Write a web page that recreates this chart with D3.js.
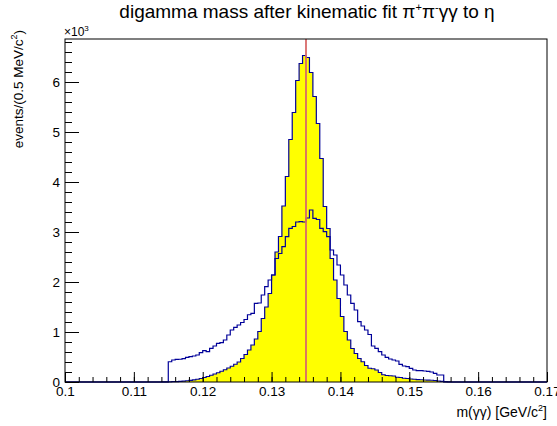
<!DOCTYPE html>
<html>
<head>
<meta charset="utf-8">
<script src="https://cdn.jsdelivr.net/npm/d3@7"></script>
<style>
  body { margin: 0; background: #fff; }
  text { font-family: "Liberation Sans", Arial, Helvetica, sans-serif; }
</style>
</head>
<body>
<div id="chart"></div>
<script>
// histogram binning: 140 bins of 0.5 MeV between 0.1 and 0.17 GeV
var binLow = 0.1, binWidth = 0.0005;

// after kinematic fit (yellow)
var fitCounts = [
  0, 0, 0, 0, 0, 0, 0, 0, 0, 0,
  0, 0, 0, 0, 0, 0, 0, 0, 0, 0,
  0, 0, 0, 0, 0, 0, 0, 0, 2, 3,
  4, 6, 8, 12, 18, 25, 32, 42, 55, 70,
  90, 110, 135, 160, 185, 215, 245, 280, 315, 355,
  400, 470, 550, 640, 740, 860, 1010, 1270, 1500, 1770,
  2140, 2600, 2910, 3520, 4110, 4850, 5390, 6030, 6370, 6530,
  6490, 6190, 5710, 5170, 4470, 3510, 3070, 2470, 2040, 1670,
  1310, 1010, 840, 670, 570, 470, 405, 330, 275, 265,
  240, 190, 145, 130, 125, 120, 95, 90, 75, 70,
  60, 55, 47, 45, 40, 38, 35, 30, 20, 12,
  6, 3, 0, 0, 0, 0, 0, 0, 0, 0,
  0, 0, 0, 0, 0, 0, 0, 0, 0, 0,
  0, 0, 0, 0, 0, 0, 0, 0, 0, 0
];

// before the fit (blue outline)
var rawCounts = [
  0, 0, 0, 0, 0, 0, 0, 0, 0, 0,
  0, 0, 0, 0, 0, 0, 0, 0, 0, 0,
  0, 0, 0, 0, 0, 0, 0, 0, 0, 0,
  405, 440, 453, 455, 467, 493, 507, 520, 540, 587,
  627, 607, 673, 720, 773, 787, 840, 940, 1040, 1093,
  1140, 1190, 1250, 1345, 1373, 1573, 1580, 1740, 1907, 2040,
  2140, 2470, 2570, 2707, 2907, 3073, 3110, 3200, 3207, 3200,
  3280, 3440, 3273, 3250, 3073, 3007, 2907, 2640, 2540, 2340,
  2140, 1940, 1740, 1573, 1440, 1207, 1120, 1040, 950, 720,
  673, 607, 540, 493, 460, 440, 420, 353, 320, 307,
  273, 240, 227, 227, 220, 213, 200, 173, 140, 140,
  0, 0, 0, 0, 0, 0, 0, 0, 0, 0,
  0, 0, 0, 0, 0, 0, 0, 0, 0, 0,
  0, 0, 0, 0, 0, 0, 0, 0, 0, 0
];

var xTicks = [0.1, 0.11, 0.12, 0.13, 0.14, 0.15, 0.16, 0.17];
var yTicks = [0, 1000, 2000, 3000, 4000, 5000, 6000];
var etaMass = 0.135;
var yMax = 6860;

var width = 557, height = 426;
var margin = {top: 39, right: 10, bottom: 44, left: 65};

var svg = d3.select("#chart")
        .append("svg")
        .attr("width", width)
        .attr("height", height);

var x = d3.scaleLinear()
        .domain([0.1, 0.17])
        .range([margin.left, width - margin.right]);

var y = d3.scaleLinear()
        .domain([0, yMax])
        .range([height - margin.bottom, margin.top]);

function histPoints(counts) {
    var pts = counts.map(function (c, i) {
        return [binLow + i * binWidth, c];
    });
    pts.push([binLow + counts.length * binWidth, counts[counts.length - 1]]);
    return pts;
}

var area = d3.area()
        .curve(d3.curveStepAfter)
        .x(function (d) { return x(d[0]); })
        .y0(y(0))
        .y1(function (d) { return y(d[1]); });

var line = d3.line()
        .curve(d3.curveStepAfter)
        .x(function (d) { return x(d[0]); })
        .y(function (d) { return y(d[1]); });

// yellow histogram
svg.append("path")
        .datum(histPoints(fitCounts))
        .attr("d", area)
        .style("fill", "#ffff00")
        .style("stroke", "none");

svg.append("path")
        .datum(histPoints(fitCounts))
        .attr("d", line)
        .style("fill", "none")
        .style("stroke", "#000099")
        .style("stroke-width", "1.2px");

// blue histogram
svg.append("path")
        .datum(histPoints(rawCounts))
        .attr("d", line)
        .style("fill", "none")
        .style("stroke", "#000099")
        .style("stroke-width", "1.2px");

// eta mass marker
svg.append("line")
        .attr("x1", x(etaMass))
        .attr("x2", x(etaMass))
        .attr("y1", y(yMax))
        .attr("y2", y(0))
        .style("stroke", "#d86a6a")
        .style("stroke-width", "1.8px");

// frame
svg.append("rect")
        .attr("x", margin.left)
        .attr("y", margin.top)
        .attr("width", width - margin.left - margin.right)
        .attr("height", height - margin.top - margin.bottom)
        .style("fill", "none")
        .style("stroke", "#000")
        .style("stroke-width", "1px");

// x axis
var xMinor = d3.range(0.1, 0.1701, 0.002);
svg.append("g")
        .attr("transform", "translate(0," + y(0) + ")")
        .call(d3.axisBottom(x).tickValues(xMinor).tickSize(-5).tickFormat(""))
        .call(function (g) { g.select(".domain").remove(); });

svg.append("g")
        .attr("class", "axis-x")
        .attr("transform", "translate(0," + y(0) + ")")
        .call(d3.axisBottom(x).tickValues(xTicks).tickSize(-10).tickPadding(4)
                .tickFormat(d3.format("")))
        .call(function (g) { g.select(".domain").remove(); });

// y axis
var yMinor = d3.range(0, yMax, 200);
svg.append("g")
        .attr("transform", "translate(" + margin.left + ",0)")
        .call(d3.axisLeft(y).tickValues(yMinor).tickSize(-7).tickFormat(""))
        .call(function (g) { g.select(".domain").remove(); });

svg.append("g")
        .attr("class", "axis-y")
        .attr("transform", "translate(" + margin.left + ",0)")
        .call(d3.axisLeft(y).tickValues(yTicks).tickSize(-14).tickPadding(5)
                .tickFormat(function (d) { return d / 1000; }))
        .call(function (g) { g.select(".domain").remove(); });

svg.selectAll(".tick line").style("stroke", "#000");
svg.selectAll(".axis-x text, .axis-y text")
        .style("font-size", "13.5px")
        .style("font-family", "'Liberation Sans', Arial, sans-serif")
        .style("fill", "#000");

// exponent
var expo = svg.append("text")
        .attr("x", margin.left - 1)
        .attr("y", margin.top - 3)
        .style("font-size", "12px");
expo.append("tspan").text("\u00d710");
expo.append("tspan").attr("dy", -5).style("font-size", "8px").text("3");

// title
var title = svg.append("text")
        .attr("x", 307)
        .attr("y", 18)
        .attr("text-anchor", "middle")
        .style("font-size", "19px");
title.append("tspan").text("digamma mass after kinematic fit \u03c0");
title.append("tspan").attr("dy", -7).style("font-size", "11px").text("+");
title.append("tspan").attr("dy", 7).text("\u03c0");
title.append("tspan").attr("dy", -7).style("font-size", "11px").text("-");
title.append("tspan").attr("dy", 7).text("\u03b3\u03b3 to \u03b7");

// axis titles
var xt = svg.append("text")
        .attr("x", width - margin.right)
        .attr("y", 417)
        .attr("text-anchor", "end")
        .style("font-size", "14px");
xt.append("tspan").text("m(\u03b3\u03b3) [GeV/c");
xt.append("tspan").attr("dy", -6).style("font-size", "9px").text("2");
xt.append("tspan").attr("dy", 6).text("]");

var yt = svg.append("text")
        .attr("transform", "translate(23,30) rotate(-90)")
        .attr("text-anchor", "end")
        .style("font-size", "13.5px");
yt.append("tspan").text("events/(0.5 MeV/c");
yt.append("tspan").attr("dy", -6).style("font-size", "9px").text("2");
yt.append("tspan").attr("dy", 6).text(")");
</script>
</body>
</html>
